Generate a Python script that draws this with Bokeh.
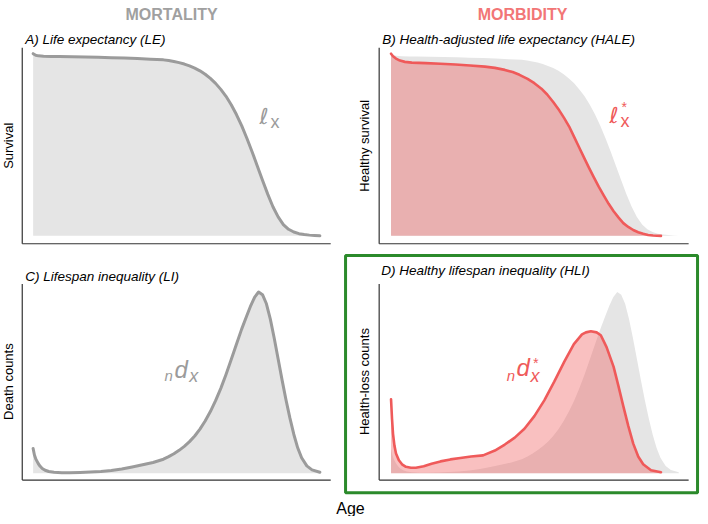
import numpy as np
from bokeh.plotting import figure
from bokeh.models import Range1d
from bokeh.core.properties import value
from bokeh.embed import file_html
from bokeh.resources import INLINE

# ---------------- data ----------------
AGE_MAX = 110

# A / B (grey): survival l_x
lx_age = [0, 1, 2, 4, 7, 10, 15, 20, 25, 30, 35, 40, 45, 50, 52, 54, 56, 58, 60,
          62, 64, 66, 68, 70, 72, 74, 76, 78, 80, 82, 84, 86, 88, 90, 92, 94, 96,
          98, 100, 102, 104, 106, 108, 110]
lx_val = [1.000, 0.991, 0.988, 0.986, 0.985, 0.984, 0.983, 0.982, 0.980, 0.978,
          0.976, 0.973, 0.970, 0.966, 0.962, 0.957, 0.951, 0.943, 0.933, 0.921,
          0.906, 0.887, 0.864, 0.837, 0.804, 0.766, 0.720, 0.666, 0.605, 0.536,
          0.462, 0.384, 0.305, 0.229, 0.160, 0.104, 0.062, 0.036, 0.021, 0.012,
          0.007, 0.004, 0.002, 0.000]

# B (red): healthy survival l*_x
hlx_age = [0, 0.76, 1.89, 3.4, 5.29, 7.94, 13.2, 18.9, 24.6, 30.2, 35.9, 39.7,
           43.5, 46.5, 49.1, 52.2, 54.8, 57.5, 59.7, 62.0, 64.3, 66.2, 68.1, 69.9,
           71.8, 73.7, 75.6, 77.5, 79.4, 81.3, 83.2, 85.1, 87.0, 88.8, 90.7, 92.6,
           94.5, 96.4, 98.3, 100.2, 103.2]
hlx_val = [1.000, 0.986, 0.973, 0.962, 0.955, 0.951, 0.948, 0.945, 0.941, 0.935,
           0.929, 0.922, 0.911, 0.899, 0.884, 0.862, 0.838, 0.808, 0.776, 0.735,
           0.689, 0.646, 0.600, 0.546, 0.489, 0.432, 0.376, 0.322, 0.270, 0.222,
           0.176, 0.135, 0.100, 0.070, 0.049, 0.032, 0.020, 0.011, 0.005, 0.002,
           0.000]

# C / D (grey): death counts nd_x
dx_age = [0, 0.5, 1.1, 2, 2.7, 3.5, 4.6, 6, 8, 11, 14, 18, 22, 26, 30, 34, 38, 42,
          46, 50, 52, 54, 56, 58, 60, 62, 64, 66, 68, 70, 72, 74, 76, 78, 80, 82,
          83.5, 85, 86.5, 88, 89.5, 91, 92.5, 94, 95.5, 97, 98.5, 100, 101.5, 103,
          105, 107, 110]
dx_val = [0.136, 0.100, 0.076, 0.052, 0.038, 0.026, 0.016, 0.009, 0.005, 0.003,
          0.003, 0.004, 0.006, 0.009, 0.015, 0.023, 0.034, 0.046, 0.059, 0.077,
          0.091, 0.107, 0.126, 0.148, 0.174, 0.205, 0.243, 0.288, 0.340, 0.400,
          0.468, 0.545, 0.627, 0.712, 0.795, 0.870, 0.925, 0.972, 1.000, 0.985,
          0.935, 0.850, 0.745, 0.630, 0.515, 0.405, 0.305, 0.215, 0.140, 0.085,
          0.040, 0.018, 0.005]

# D (red): health-loss counts nd*_x
hdx_age = [0, 0.38, 0.76, 1.3, 1.9, 3.0, 4.2, 5.7, 7.6, 9.5, 12.5, 15.5, 18.9,
           22.7, 26.5, 30.6, 35.2, 39.7, 43.5, 47.3, 51.0, 54.8, 58.6, 62.4, 66.2,
           69.9, 73.0, 74.5, 76.4, 78.6, 80.2, 82.4, 85.1, 87.0, 88.8, 90.7, 92.6,
           94.5, 96.4, 99.4, 103.2]
hdx_val = [0.408, 0.299, 0.217, 0.152, 0.109, 0.071, 0.049, 0.035, 0.030, 0.030,
           0.038, 0.052, 0.065, 0.076, 0.084, 0.092, 0.098, 0.125, 0.158, 0.196,
           0.245, 0.315, 0.402, 0.505, 0.614, 0.712, 0.766, 0.777, 0.783, 0.777,
           0.761, 0.696, 0.587, 0.478, 0.370, 0.261, 0.163, 0.092, 0.049, 0.016,
           0.005]

headers = ["MORTALITY", "MORBIDITY"]
titles = ["A) Life expectancy (LE)", "B) Health-adjusted life expectancy (HALE)",
          "C) Lifespan inequality (LI)", "D) Healthy lifespan inequality (HLI)"]
ylabels = ["Survival", "Healthy survival", "Death counts", "Health-loss counts"]
xlabel = "Age"

# ---------------- styling ----------------
FONT = "Liberation Sans"
GRAY_FILL = "#e5e5e5"
GRAY_LINE = "#9b9b9b"
RED = "#ef5a5a"
RED_ALPHA = 0.38
HEAD_GRAY = "#a0a0a0"
HEAD_RED = "#f27676"
GREEN = "#2b8a2b"
AXIS = "#333333"

W, H = 700, 516
KX, KY = W / 708.0, H / 524.0


def X(r):
    return r * KX


def Y(r):
    return r * KY


p = figure(width=W, height=H, x_range=Range1d(0, W), y_range=Range1d(H, 0),
           output_backend="svg", toolbar_location=None, min_border=0,
           x_axis_location=None, y_axis_location=None)
p.outline_line_color = None
p.xgrid.grid_line_color = None
p.ygrid.grid_line_color = None
p.background_fill_color = "white"
p.border_fill_color = "white"

# panel layout (reference pixel positions)
panels = {
    "A": dict(axis=(22, 334, 48, 247), age_px=(33, 323), val_px=(239, 54)),
    "B": dict(axis=(383, 696, 48, 247), age_px=(395, 686), val_px=(239, 54)),
    "C": dict(axis=(22, 334, 288, 487), age_px=(33, 323), val_px=(480, 296)),
    "D": dict(axis=(383, 696, 288, 487), age_px=(395, 686), val_px=(480, 296)),
}

xr, yr = {}, {}
for name, spec in panels.items():
    cx0, cx1 = X(spec["age_px"][0]), X(spec["age_px"][1])
    sx = (cx1 - cx0) / AGE_MAX
    xs = -cx0 / sx
    xr[name] = Range1d(xs, xs + W / sx)
    cy0, cy1 = Y(spec["val_px"][0]), Y(spec["val_px"][1])
    sy = cy0 - cy1
    ys = -(H - cy0) / sy
    yr[name] = Range1d(ys, ys + H / sy)
p.extra_x_ranges = xr
p.extra_y_ranges = yr


def fill(name, ages, vals, color, alpha=1.0):
    p.varea(x=ages, y1=0, y2=vals, fill_color=color, fill_alpha=alpha,
            x_range_name=name, y_range_name=name)


def curve(name, ages, vals, color, width):
    p.line(ages, vals, line_color=color, line_width=width, line_join="round",
           line_cap="round", x_range_name=name, y_range_name=name)


# A
fill("A", lx_age, lx_val, GRAY_FILL)
curve("A", lx_age, lx_val, GRAY_LINE, 3)
# B
fill("B", lx_age, lx_val, GRAY_FILL)
fill("B", hlx_age, hlx_val, RED, RED_ALPHA)
curve("B", hlx_age, hlx_val, RED, 2.6)
# C
fill("C", dx_age, dx_val, GRAY_FILL)
curve("C", dx_age, dx_val, GRAY_LINE, 3)
# D
fill("D", dx_age, dx_val, GRAY_FILL)
fill("D", hdx_age, hdx_val, RED, RED_ALPHA)
curve("D", hdx_age, hdx_val, RED, 2.6)

# axes lines (no ticks)
for spec in panels.values():
    l, r, t, b = spec["axis"]
    p.segment(x0=[X(l), X(l)], y0=[Y(t), Y(b)], x1=[X(l), X(r)], y1=[Y(b), Y(b)],
              line_color=AXIS, line_width=1.2)

# green highlight box around D
p.quad(left=[X(349)], right=[X(705)], top=[Y(259)], bottom=[Y(500)],
       fill_color=None, line_color=GREEN, line_width=3)


def txt(x, y, s, size, color="black", style="normal", align="left",
        baseline="alphabetic", angle=0.0, font=FONT, raw=False):
    cx, cy = (x, y) if raw else (X(x), Y(y))
    p.text(x=[cx], y=[cy], text=[s], text_font=value(font),
           text_font_size=f"{size}px", text_font_style=style, text_color=color,
           text_align=align, text_baseline=baseline, angle=angle)


# headers
txt(173, 14, headers[0], 16, HEAD_GRAY, "bold", "center")
txt(528, 14, headers[1], 16, HEAD_RED, "bold", "center")

# panel titles
txt(25, 40, titles[0], 13.5, "black", "italic")
txt(386, 40, titles[1], 13.5, "black", "italic")
txt(25, 280, titles[2], 13.5, "black", "italic")
txt(385, 274, titles[3], 13.5, "black", "italic")

# y labels
txt(8, 147.5, ylabels[0], 13, "black", "normal", "center", "middle", np.pi / 2)
txt(368, 147.5, ylabels[1], 13, "black", "normal", "center", "middle", np.pi / 2)
txt(8, 387, ylabels[2], 13, "black", "normal", "center", "middle", np.pi / 2)
txt(368, 387, ylabels[3], 13, "black", "normal", "center", "middle", np.pi / 2)

# x label
txt(X(354), 508, xlabel, 16, "black", "normal", "center", raw=True)

# curve labels
txt(262, 118, "\u2113", 22, GRAY_LINE, font="DejaVu Sans")
txt(273, 123, "x", 18, GRAY_LINE)

txt(616, 117, "\u2113", 22, RED, font="DejaVu Sans")
txt(627, 122, "x", 18, RED)
txt(628, 108, "*", 14, RED)

txt(166, 381, "n", 15, GRAY_LINE, "italic")
txt(176, 375, "d", 24, GRAY_LINE, "italic")
txt(191, 381, "x", 18, GRAY_LINE, "italic")

txt(512, 381, "n", 15, RED, "italic")
txt(522, 373, "d", 24, RED, "italic")
txt(536, 381, "x", 18, RED, "italic")
txt(538, 368, "*", 14, RED, "italic")

open("out.html", "w").write(file_html(p, INLINE))
